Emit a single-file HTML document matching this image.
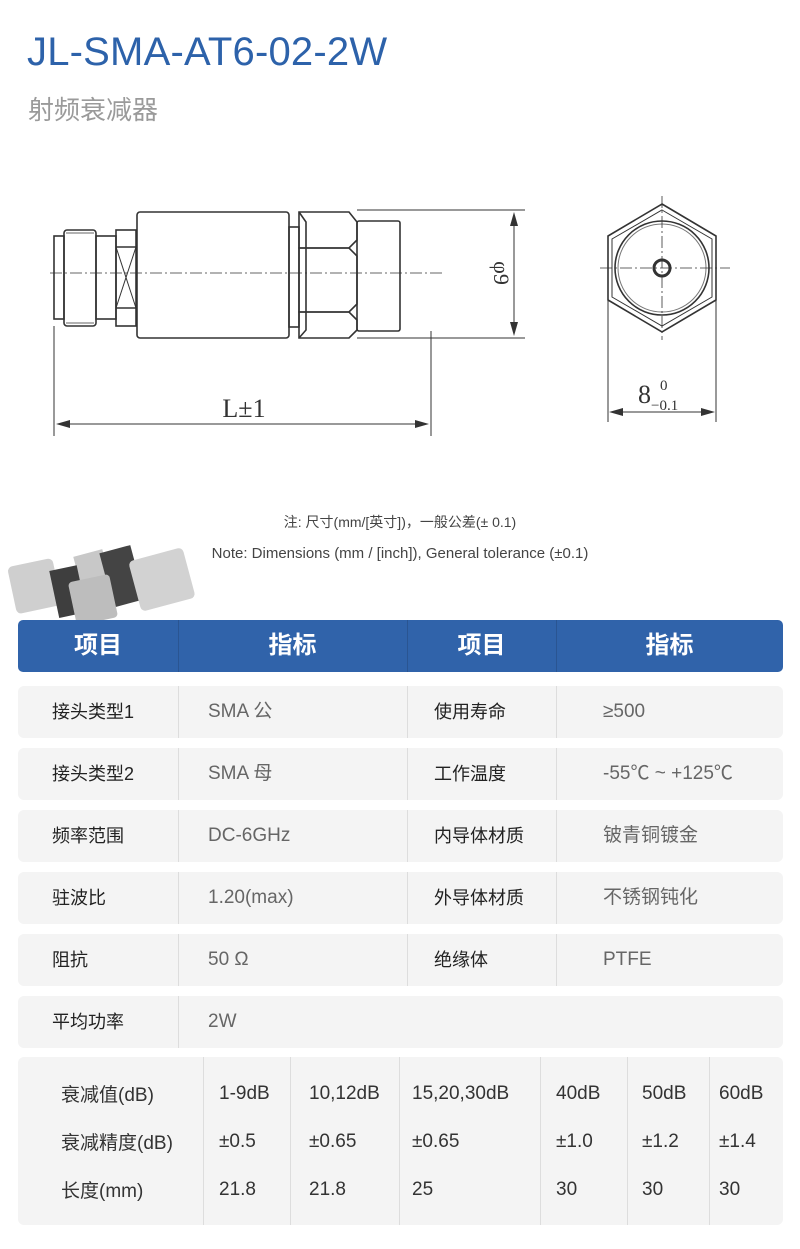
<!DOCTYPE html>
<html><head><meta charset="utf-8"><style>
*{margin:0;padding:0;box-sizing:border-box}
body{width:800px;height:1249px;background:#fff;position:relative;overflow:hidden;font-family:"Liberation Sans","Noto Sans CJK SC",sans-serif}
.abs{position:absolute}
.title{left:27px;top:30px;font-size:40px;color:#2d62aa;font-weight:500;letter-spacing:0.2px}
.sub{left:28px;top:90px;font-size:26px;color:#9a9a9a}
.note{width:800px;text-align:center;font-size:14px;color:#444}
.row{position:absolute;left:18px;width:765px;height:52px;background:#f4f4f4;border-radius:6px;font-size:18px}
.row div{position:absolute;top:0;height:52px;line-height:52px}
.k{color:#222}
.v{color:#666;font-size:19px}
.sep{position:absolute;top:0;width:1px;height:52px;background:#ddd}
.hdr{position:absolute;left:18px;top:620px;width:765px;height:52px;background:#3063aa;border-radius:5px;color:#fff;font-size:24px;font-weight:bold}
.hdr div{position:absolute;top:0;height:52px;line-height:52px;text-align:center}
.hsep{position:absolute;top:0;width:1px;height:52px;background:#2a5592}
.bt{position:absolute;left:18px;top:1057px;width:765px;height:168px;background:#f4f4f4;border-radius:6px;font-size:19px;color:#333}
.bt span{position:absolute}
.bt span.l{margin-top:-3px}
.bsep{position:absolute;top:0;width:1px;height:168px;background:#ddd}
</style></head><body>
<div class="abs title">JL-SMA-AT6-02-2W</div>
<div class="abs sub">射频衰减器</div>

<svg class="abs" style="left:0;top:0" width="800" height="480" viewBox="0 0 800 480">
<g fill="none" stroke="#333" stroke-width="1.6">
<rect x="54" y="236" width="10" height="83"/>
<rect x="64" y="230" width="32" height="96" rx="3"/>
<line x1="66" y1="233" x2="94" y2="233" stroke-width="0.8"/>
<line x1="66" y1="323" x2="94" y2="323" stroke-width="0.8"/>
<rect x="96" y="236" width="20" height="83"/>
<rect x="116" y="230" width="20" height="96"/>
<line x1="116" y1="247" x2="136" y2="247"/>
<line x1="116" y1="308" x2="136" y2="308"/>
<line x1="116" y1="247" x2="136" y2="308" stroke-width="1"/>
<line x1="136" y1="247" x2="116" y2="308" stroke-width="1"/>
<rect x="137" y="212" width="152" height="126" rx="3"/>
<rect x="289" y="227" width="10" height="100"/>
<path d="M299 212 L349 212 L357 222 L357 240 L349 248 L299 248 Z"/>
<path d="M299 248 L349 248 L357 256 L357 304 L349 312 L299 312 Z"/>
<path d="M299 312 L349 312 L357 320 L357 330 L349 338 L299 338 Z" />
<path d="M299 212 L306 222 L306 330 L299 338"/>
<rect x="357" y="221" width="43" height="110" rx="2"/>
<path d="M662 204 L716 236 L716 300 L662 332 L608 300 L608 236 Z"/>
<path d="M662 210 L712 239 L712 297 L662 326 L612 297 L612 239 Z" stroke-width="1"/>
<circle cx="662" cy="268" r="47"/>
<circle cx="662" cy="268" r="44" stroke-width="1" stroke="#777"/>
<circle cx="662" cy="268" r="8" stroke-width="3"/>
</g>
<g stroke="#333" stroke-width="0.8" stroke-dasharray="12,3,2,3" fill="none">
<line x1="50" y1="273" x2="444" y2="273"/>
<line x1="600" y1="268" x2="730" y2="268"/>
<line x1="662" y1="196" x2="662" y2="340"/>
</g>
<g stroke="#333" stroke-width="1" fill="none">
<line x1="357" y1="210" x2="525" y2="210"/>
<line x1="357" y1="338" x2="525" y2="338"/>
<line x1="514" y1="214" x2="514" y2="334"/>
<line x1="54" y1="326" x2="54" y2="436"/>
<line x1="431" y1="331" x2="431" y2="436"/>
<line x1="58" y1="424" x2="427" y2="424"/>
<line x1="608" y1="300" x2="608" y2="422"/>
<line x1="716" y1="300" x2="716" y2="422"/>
<line x1="612" y1="412" x2="712" y2="412"/>
</g>
<g fill="#333">
<path d="M514 212 L510 226 L518 226 Z"/><path d="M514 336 L510 322 L518 322 Z"/>
<path d="M56 424 L70 420 L70 428 Z"/><path d="M429 424 L415 420 L415 428 Z"/>
<path d="M609 412 L623 408 L623 416 Z"/><path d="M715 412 L701 408 L701 416 Z"/>
</g>
<text x="0" y="0" transform="translate(494,273) rotate(90)" text-anchor="middle" font-family="Liberation Serif" font-size="22" fill="#333">φ9</text>
<text x="244" y="417" text-anchor="middle" font-family="Liberation Serif" font-size="26" fill="#333">L±1</text>
<text x="638" y="403" font-family="Liberation Serif" font-size="26" fill="#333">8</text>
<text x="660" y="390" font-family="Liberation Serif" font-size="15" fill="#333">0</text>
<text x="651" y="410" font-family="Liberation Serif" font-size="15" fill="#333">−0.1</text>
</svg>

<div class="abs note" style="top:512px">注: 尺寸(mm/[英寸])，一般公差(± 0.1)</div>
<div class="abs note" style="top:545px;font-size:15px">Note: Dimensions (mm / [inch]), General tolerance (±0.1)</div>

<svg class="abs" style="left:0;top:540px" width="210" height="85">
<rect x="80" y="12" width="30" height="52" fill="#c8c8c8" transform="rotate(-15 95 40)"/>
<rect x="106" y="8" width="32" height="56" fill="#444" transform="rotate(-15 123 36)"/>
<rect x="134" y="14" width="56" height="52" rx="5" fill="#d2d2d2" transform="rotate(-15 160 40)"/>
<rect x="12" y="22" width="46" height="48" rx="5" fill="#cfcfcf" transform="rotate(-12 35 48)"/>
<rect x="54" y="28" width="28" height="48" fill="#3e3e3e" transform="rotate(-12 66 52)"/>
<rect x="72" y="38" width="42" height="44" rx="4" fill="#bdbdbd" transform="rotate(-12 92 60)"/>
</svg>

<div class="hdr">
<div style="left:0;width:160px">项目</div><div class="hsep" style="left:160px"></div>
<div style="left:160px;width:229px">指标</div><div class="hsep" style="left:389px"></div>
<div style="left:389px;width:149px">项目</div><div class="hsep" style="left:538px"></div>
<div style="left:538px;width:227px">指标</div>
</div>

<div class="row" style="top:686px"><div class="k" style="left:34px">接头类型1</div><div class="sep" style="left:160px"></div><div class="v" style="left:190px">SMA 公</div><div class="sep" style="left:389px"></div><div class="k" style="left:416px">使用寿命</div><div class="sep" style="left:538px"></div><div class="v" style="left:585px">≥500</div></div>
<div class="row" style="top:748px"><div class="k" style="left:34px">接头类型2</div><div class="sep" style="left:160px"></div><div class="v" style="left:190px">SMA 母</div><div class="sep" style="left:389px"></div><div class="k" style="left:416px">工作温度</div><div class="sep" style="left:538px"></div><div class="v" style="left:585px">-55℃ ~ +125℃</div></div>
<div class="row" style="top:810px"><div class="k" style="left:34px">频率范围</div><div class="sep" style="left:160px"></div><div class="v" style="left:190px">DC-6GHz</div><div class="sep" style="left:389px"></div><div class="k" style="left:416px">内导体材质</div><div class="sep" style="left:538px"></div><div class="v" style="left:585px">铍青铜镀金</div></div>
<div class="row" style="top:872px"><div class="k" style="left:34px">驻波比</div><div class="sep" style="left:160px"></div><div class="v" style="left:190px">1.20(max)</div><div class="sep" style="left:389px"></div><div class="k" style="left:416px">外导体材质</div><div class="sep" style="left:538px"></div><div class="v" style="left:585px">不锈钢钝化</div></div>
<div class="row" style="top:934px"><div class="k" style="left:34px">阻抗</div><div class="sep" style="left:160px"></div><div class="v" style="left:190px">50 Ω</div><div class="sep" style="left:389px"></div><div class="k" style="left:416px">绝缘体</div><div class="sep" style="left:538px"></div><div class="v" style="left:585px">PTFE</div></div>
<div class="row" style="top:996px"><div class="k" style="left:34px">平均功率</div><div class="sep" style="left:160px"></div><div class="v" style="left:190px">2W</div></div>

<div class="bt">
<div class="bsep" style="left:185px"></div><div class="bsep" style="left:272px"></div><div class="bsep" style="left:381px"></div><div class="bsep" style="left:522px"></div><div class="bsep" style="left:609px"></div><div class="bsep" style="left:691px"></div>
<span class="l" style="left:43px;top:26px">衰减值(dB)</span><span style="left:201px;top:26px">1-9dB</span><span style="left:291px;top:26px">10,12dB</span><span style="left:394px;top:26px">15,20,30dB</span><span style="left:538px;top:26px">40dB</span><span style="left:624px;top:26px">50dB</span><span style="left:701px;top:26px">60dB</span>
<span class="l" style="left:43px;top:74px">衰减精度(dB)</span><span style="left:201px;top:74px">±0.5</span><span style="left:291px;top:74px">±0.65</span><span style="left:394px;top:74px">±0.65</span><span style="left:538px;top:74px">±1.0</span><span style="left:624px;top:74px">±1.2</span><span style="left:701px;top:74px">±1.4</span>
<span class="l" style="left:43px;top:122px">长度(mm)</span><span style="left:201px;top:122px">21.8</span><span style="left:291px;top:122px">21.8</span><span style="left:394px;top:122px">25</span><span style="left:538px;top:122px">30</span><span style="left:624px;top:122px">30</span><span style="left:701px;top:122px">30</span>
</div>
</body></html>
